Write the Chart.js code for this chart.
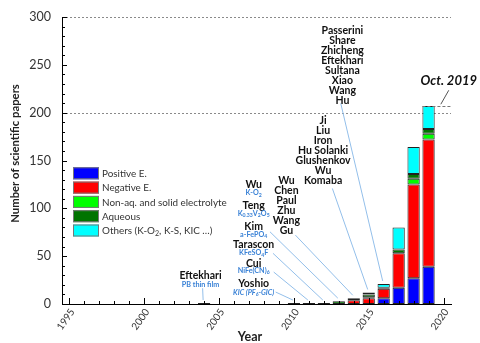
<!DOCTYPE html>
<html>
<head>
<meta charset="utf-8">
<script src="https://cdn.jsdelivr.net/npm/chart.js@4.4.0/dist/chart.umd.min.js"></script>
<style>
  html, body { margin: 0; padding: 0; background: #fff; }
  #wrap { width: 480px; height: 343px; }
</style>
</head>
<body>
<div id="wrap"><canvas id="papers" width="480" height="343"></canvas></div>
<script>
// papers per year, by topic
const years      = [2004, 2010, 2011, 2012, 2013, 2014, 2015, 2016, 2017, 2018, 2019];
const positive   = [1, 1, 1, 1, 0, 0, 0, 6, 17, 27, 39];
const negative   = [0, 0, 0, 0, 0, 4, 6, 10, 36, 98, 133];
const nonAqueous = [0, 0, 0, 0, 0, 0, 1, 0, 0, 6, 6];
const aqueous    = [0, 0, 0, 0, 3, 0, 3, 1, 4, 5, 5];
const others     = [0, 0, 0, 0, 0, 2, 2, 4, 23, 28, 24];

const seriesNames  = ['Positive E.', 'Negative E.', 'Non-aq. and solid electrolyte', 'Aqueous', 'Others (K-O_{2}, K-S, KIC \u2026)'];
const seriesColors = ['#0000ff', '#ff0000', '#00ff00', '#007400', '#00ffff'];

const xTickYears = [1995, 2000, 2005, 2010, 2015, 2020];
const yTicks     = [0, 50, 100, 150, 200, 250, 300];
const refLines   = [200, 300];

// author notes: [year, value, text, kind]
const notes = [
  [2003.76, 29.2, 'Eftekhari', 'name'], [2003.76, 20.5, 'PB thin film', 'blue'],
  [2007.31, 125.3, 'Wu', 'name'], [2007.31, 116.3, 'K-O_{2}', 'blue'],
  [2007.31, 103.3, 'Teng', 'name'], [2007.31, 94.8, 'K_{0.33}V_{2}O_{5}', 'blue'],
  [2007.31, 80.7, 'Kim', 'name'], [2007.31, 72.6, 'a-FePO_{4}', 'blue'],
  [2007.31, 61.6, 'Tarascon', 'name'], [2007.31, 53.6, 'KFeSO_{4}F', 'blue'],
  [2007.31, 42.3, 'Cui', 'name'], [2007.31, 35.0, 'NiFe(CN)_{6}', 'blue'],
  [2007.31, 20.9, 'Yoshio', 'name'], [2007.31, 12.3, 'KIC (PF_{6}-GIC)', 'blueItalic']
];
const columns = [
  [2009.50, 129.4, ['Wu', 'Chen', 'Paul', 'Zhu', 'Wang', 'Gu']],
  [2011.95, 192.0, ['Ji', 'Liu', 'Iron', 'Hu Solanki', 'Glushenkov', 'Wu', 'Komaba']],
  [2013.24, 285.3, ['Passerini', 'Share', 'Zhicheng', 'Eftekhari', 'Sultana', 'Xiao', 'Wang', 'Hu']]
];
// leader lines: [from year, from value, to bar year]
const leaders = [
  [2003.9, 16.5, 2004],
  [2008.78, 12.5, 2010],
  [2008.65, 33.4, 2011],
  [2008.6, 53.0, 2012],
  [2008.4, 75.5, 2013],
  [2010.1, 72.0, 2014],
  [2012.57, 120.8, 2015],
  [2013.13, 209.8, 2016]
];
const octLabel = [2020.35, 232.8, 'Oct. 2019'];
const octPointer = [2020.35, 223.4, 2019.82, 208.8];

const FONT = 'Lato, "Open Sans", sans-serif';
const series = [positive, negative, nonAqueous, aqueous, others];

function richParts(str) {
  const parts = [];
  const re = /_\{([^}]*)\}/g;
  let last = 0, m;
  while ((m = re.exec(str))) {
    if (m.index > last) parts.push({ t: str.slice(last, m.index), sub: false });
    parts.push({ t: m[1], sub: true });
    last = re.lastIndex;
  }
  if (last < str.length) parts.push({ t: str.slice(last), sub: false });
  return parts;
}

function drawRich(ctx, str, x, y, f, align) {
  const parts = richParts(str);
  const fontOf = sz => `${f.style || 'normal'} ${f.weight || 'normal'} ${sz}px ${FONT}`;
  let w = 0;
  parts.forEach(p => {
    ctx.font = fontOf(p.sub ? f.size * 0.72 : f.size);
    p.w = ctx.measureText(p.t).width;
    w += p.w;
  });
  let cx = align === 'left' ? x : x - w / 2;
  ctx.fillStyle = f.color;
  ctx.textAlign = 'left';
  ctx.textBaseline = 'middle';
  parts.forEach(p => {
    ctx.font = fontOf(p.sub ? f.size * 0.72 : f.size);
    ctx.fillText(p.t, cx, p.sub ? y + f.size * 0.3 : y);
    cx += p.w;
  });
}

const styles = {
  name: { size: 10.5, weight: 'bold', color: '#111' },
  blue: { size: 7.2, weight: 'bold', color: '#3a82d6' },
  blueItalic: { size: 7.2, weight: 'bold', style: 'italic', color: '#3a82d6' }
};

const decor = {
  id: 'decor',
  beforeDatasetsDraw(chart) {
    const { ctx, chartArea: ca, scales: { x, y } } = chart;
    ctx.save();
    ctx.strokeStyle = '#8a8a8a';
    ctx.lineWidth = 1;
    ctx.setLineDash([2, 2]);
    refLines.forEach(v => {
      const py = Math.round(y.getPixelForValue(v)) + 0.5;
      ctx.beginPath();
      ctx.moveTo(ca.left, py);
      ctx.lineTo(ca.right, py);
      ctx.stroke();
    });
    ctx.restore();
  },
  afterDraw(chart) {
    const { ctx, chartArea: ca, scales: { x, y } } = chart;
    ctx.save();

    // inside ticks
    ctx.strokeStyle = '#000';
    ctx.lineWidth = 1;
    for (let v = 0; v <= 300; v += 10) {
      const py = Math.round(y.getPixelForValue(v)) + 0.5;
      ctx.beginPath();
      ctx.moveTo(ca.left, py);
      ctx.lineTo(ca.left + (v % 50 === 0 ? 5 : 3), py);
      ctx.stroke();
    }
    for (let yr = 1995; yr <= 2020; yr++) {
      const px = Math.round(x.getPixelForValue(yr)) + 0.5;
      ctx.beginPath();
      ctx.moveTo(px, ca.bottom);
      ctx.lineTo(px, ca.bottom - (yr % 5 === 0 ? 6 : 3));
      ctx.stroke();
    }

    // rotated year labels, ending at the tick
    ctx.fillStyle = '#333';
    ctx.font = `10px ${FONT}`;
    ctx.textAlign = 'right';
    ctx.textBaseline = 'middle';
    xTickYears.forEach(v => {
      ctx.save();
      ctx.translate(x.getPixelForValue(v) + 3, ca.bottom + 6);
      ctx.rotate(-55 * Math.PI / 180);
      ctx.fillText(String(v), 0, 0);
      ctx.restore();
    });

    // leader lines
    const totals = years.map((_, i) => series.reduce((s, a) => s + a[i], 0));
    ctx.strokeStyle = '#93bfea';
    leaders.forEach(([fx, fy, yr]) => {
      const t = totals[years.indexOf(yr)];
      ctx.beginPath();
      ctx.moveTo(x.getPixelForValue(fx), y.getPixelForValue(fy));
      ctx.lineTo(x.getPixelForValue(yr) - 1, y.getPixelForValue(t) - 3);
      ctx.stroke();
    });

    // Oct. 2019 marker
    const last = years.length - 1;
    const bar = chart.getDatasetMeta(4).data[last];
    const topY = Math.round(y.getPixelForValue(totals[last])) + 0.5;
    ctx.strokeStyle = '#777';
    ctx.setLineDash([3, 2]);
    ctx.beginPath();
    ctx.moveTo(bar.x - bar.width / 2, topY);
    ctx.lineTo(ca.right, topY);
    ctx.stroke();
    ctx.setLineDash([]);
    ctx.strokeStyle = '#555';
    ctx.beginPath();
    ctx.moveTo(x.getPixelForValue(octPointer[0]), y.getPixelForValue(octPointer[1]));
    ctx.lineTo(x.getPixelForValue(octPointer[2]), y.getPixelForValue(octPointer[3]));
    ctx.stroke();
    drawRich(ctx, octLabel[2], x.getPixelForValue(octLabel[0]), y.getPixelForValue(octLabel[1]),
      { size: 13, weight: 'bold', style: 'italic', color: '#111' });

    // notes
    notes.forEach(([nx, ny, txt, kind]) => {
      drawRich(ctx, txt, x.getPixelForValue(nx), y.getPixelForValue(ny), styles[kind]);
    });
    columns.forEach(([cx, cy, names]) => {
      names.forEach((n, i) => {
        drawRich(ctx, n, x.getPixelForValue(cx), y.getPixelForValue(cy) + i * 10, styles.name);
      });
    });

    // legend
    const lx = ca.left + 11, ly = ca.top + 150.3;
    seriesNames.forEach((n, i) => {
      const by = ly + i * 14.3;
      ctx.fillStyle = seriesColors[i];
      ctx.fillRect(lx, by, 26, 12);
      ctx.strokeStyle = '#777';
      ctx.strokeRect(lx + 0.5, by + 0.5, 25, 11);
      drawRich(ctx, n, lx + 29, by + 6.5, { size: 9.9, color: '#333' }, 'left');
    });

    // axis titles
    ctx.fillStyle = '#222';
    ctx.textAlign = 'center';
    ctx.textBaseline = 'middle';
    ctx.font = `bold 12.5px ${FONT}`;
    ctx.fillText('Year', 250, 337);
    ctx.translate(15, 153.5);
    ctx.rotate(-Math.PI / 2);
    ctx.font = `bold 11.3px ${FONT}`;
    ctx.fillText('Number of scientific papers', 0, 0);
    ctx.restore();
  }
};

new Chart(document.getElementById('papers'), {
  type: 'bar',
  data: {
    datasets: series.map((vals, i) => ({
      label: seriesNames[i],
      data: years.map((yr, j) => ({ x: yr, y: vals[j] })),
      backgroundColor: seriesColors[i],
      borderColor: '#222',
      borderWidth: 1,
      borderSkipped: false,
      barPercentage: 0.82,
      categoryPercentage: 1
    }))
  },
  options: {
    responsive: false,
    animation: false,
    layout: { padding: { top: 17, right: 29, left: 0, bottom: 0 } },
    plugins: { legend: { display: false }, tooltip: { enabled: false } },
    scales: {
      x: {
        type: 'linear',
        stacked: true,
        offset: false,
        min: 1994.5,
        max: 2020.5,
        grid: { display: false, offset: false },
        border: { color: '#000', width: 1 },
        afterBuildTicks: s => { s.ticks = xTickYears.map(v => ({ value: v })); },
        afterFit: s => { s.height = 39; },
        ticks: { display: false }
      },
      y: {
        stacked: true,
        min: 0,
        max: 300,
        grid: { display: false },
        border: { color: '#000', width: 1 },
        afterBuildTicks: s => { s.ticks = yTicks.map(v => ({ value: v })); },
        afterFit: s => { s.width = 62; },
        ticks: { padding: 3, color: '#333', font: { family: FONT, size: 12.5 }, callback: v => String(v) }
      }
    }
  },
  plugins: [decor]
});
</script>
</body>
</html>
